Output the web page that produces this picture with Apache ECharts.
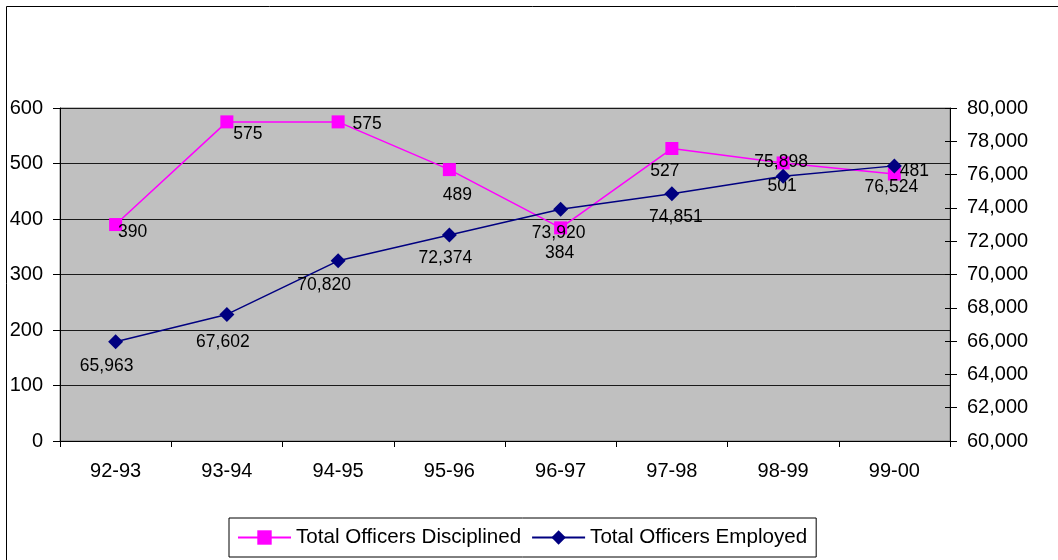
<!DOCTYPE html>
<html>
<head>
<meta charset="utf-8">
<script src="https://cdn.jsdelivr.net/npm/echarts@6/dist/echarts.min.js"></script>
<style>
  html, body { margin: 0; padding: 0; background: #fff; }
  #chart { width: 1058px; height: 560px; }
</style>
</head>
<body>
<div id="chart"></div>
<script>
const categories = ['92-93', '93-94', '94-95', '95-96', '96-97', '97-98', '98-99', '99-00'];
const disciplined = [390, 575, 575, 489, 384, 527, 501, 481];
const employed = [65963, 67602, 70820, 72374, 73920, 74851, 75898, 76524];
const leftAxis = { min: 0, max: 600, interval: 100 };
const rightAxis = { min: 60000, max: 80000, interval: 2000 };
const seriesNames = ['Total Officers Disciplined', 'Total Officers Employed'];

// label placement styles (offsets from marker centre, px)
const discLabelOffsets = [[17, 8], [21, 12], [29, 2], [8, 26], [-1, 25], [-7, 23], [-1, 23], [20, -3]];
const empLabelOffsets = [[-9, 24], [-4, 28], [-14, 24], [-4, 23], [-2, 24], [4, 23], [-2, -14], [-3, 21]];

const FONT = "'Liberation Sans', Arial, sans-serif";
const fmt = v => Number(v).toLocaleString('en-US');

const chart = echarts.init(document.getElementById('chart'), null, { renderer: 'canvas' });

const labelBase = {
  show: true,
  position: 'inside',
  align: 'center',
  verticalAlign: 'middle',
  color: '#000',
  fontFamily: FONT,
  fontSize: 17.5
};

chart.setOption({
  animation: false,
  backgroundColor: '#fff',
  textStyle: { fontFamily: FONT },
  graphic: [{
    type: 'rect',
    shape: { x: 6.5, y: 6.5, width: 1200, height: 700 },
    style: { fill: 'none', stroke: '#000', lineWidth: 1 },
    silent: true,
    z: -10
  }],
  grid: {
    left: 60, top: 108, width: 890, height: 333,
    show: true,
    backgroundColor: '#C0C0C0',
    borderColor: '#808080',
    borderWidth: 1
  },
  legend: {
    left: 229, top: 518,
    padding: [9, 9, 9, 8],
    itemGap: 10,
    itemWidth: 53,
    itemHeight: 18,
    borderColor: '#000',
    borderWidth: 1,
    backgroundColor: '#fff',
    textStyle: { fontFamily: FONT, fontSize: 20.6, color: '#000' },
    data: seriesNames
  },
  xAxis: {
    type: 'category',
    data: categories,
    boundaryGap: true,
    axisLine: { show: true, lineStyle: { color: '#000', width: 1 } },
    axisTick: { show: true, length: 6, lineStyle: { color: '#000' } },
    axisLabel: { color: '#000', fontFamily: FONT, fontSize: 20, margin: 20 },
    splitLine: { show: false }
  },
  yAxis: [{
    type: 'value',
    position: 'left',
    min: leftAxis.min, max: leftAxis.max, interval: leftAxis.interval,
    axisLine: { show: true, lineStyle: { color: '#000', width: 1 } },
    axisTick: { show: true, length: 7, lineStyle: { color: '#000' } },
    axisLabel: { color: '#000', fontFamily: FONT, fontSize: 20, margin: 17 },
    splitLine: { show: true, lineStyle: { color: '#1a1a1a', width: 1 } }
  }, {
    type: 'value',
    position: 'right',
    min: rightAxis.min, max: rightAxis.max, interval: rightAxis.interval,
    axisLine: { show: true, lineStyle: { color: '#000', width: 1 } },
    axisTick: { show: true, length: 7, lineStyle: { color: '#000' } },
    axisLabel: { color: '#000', fontFamily: FONT, fontSize: 20, margin: 17, formatter: v => fmt(v) },
    splitLine: { show: false }
  }, {
    type: 'value',
    position: 'right',
    min: rightAxis.min, max: rightAxis.max, interval: rightAxis.interval,
    axisLine: { show: false },
    axisTick: { show: true, inside: true, length: 5, lineStyle: { color: '#000' } },
    axisLabel: { show: false },
    splitLine: { show: false }
  }],
  series: [{
    name: seriesNames[0],
    type: 'line',
    yAxisIndex: 0,
    symbol: 'rect',
    symbolSize: 13,
    color: '#FF00FF',
    lineStyle: { color: '#FF00FF', width: 1.5 },
    itemStyle: { color: '#FF00FF' },
    label: Object.assign({}, labelBase, { formatter: p => fmt(p.value) }),
    data: disciplined.map((v, i) => ({ value: v, label: { offset: discLabelOffsets[i] } })),
    z: 2
  }, {
    name: seriesNames[1],
    type: 'line',
    yAxisIndex: 1,
    symbol: 'diamond',
    symbolSize: 15,
    color: '#000080',
    lineStyle: { color: '#000080', width: 1.5 },
    itemStyle: { color: '#000080' },
    label: Object.assign({}, labelBase, { formatter: p => fmt(p.value) }),
    data: employed.map((v, i) => ({ value: v, label: { offset: empLabelOffsets[i] } })),
    z: 3
  }]
});
</script>
</body>
</html>
